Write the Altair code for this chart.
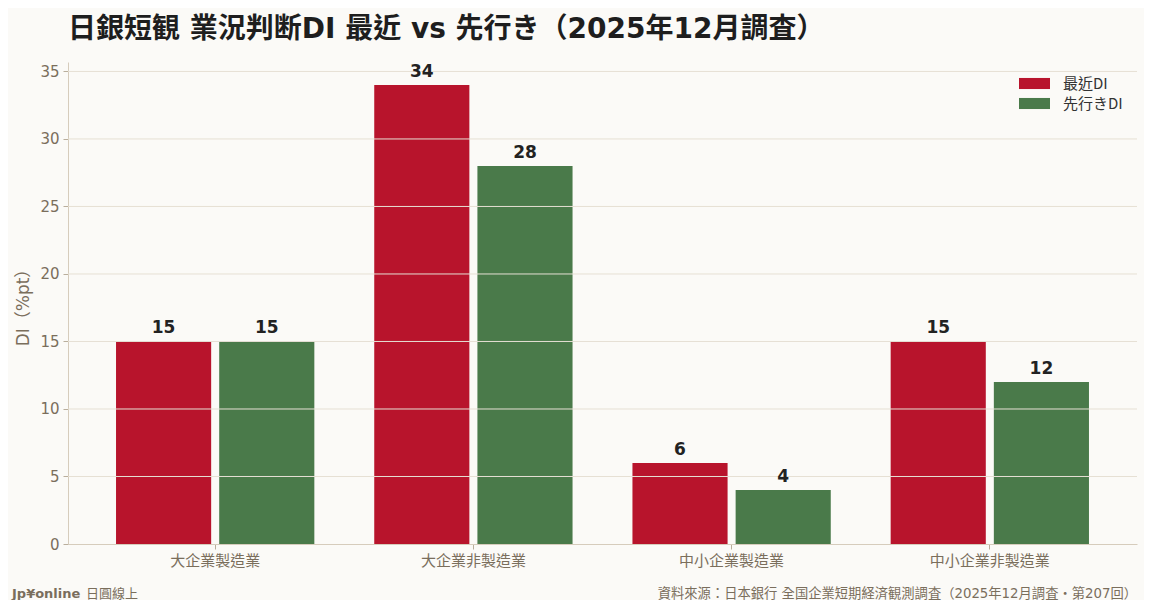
import altair as alt
import pandas as pd

categories = ["大企業製造業", "大企業非製造業", "中小企業製造業", "中小企業非製造業"]
series = ["最近DI", "先行きDI"]
recent_di = [15, 34, 6, 15]
forecast_di = [15, 28, 4, 12]
colors = ["#B8142C", "#4A7A4A"]
y_ticks = [0, 5, 10, 15, 20, 25, 30, 35]

rows = []
for c, r, f in zip(categories, recent_di, forecast_di):
    rows.append({"cat": c, "series": series[0], "value": r})
    rows.append({"cat": c, "series": series[1], "value": f})
df = pd.DataFrame(rows)
grid_df = pd.DataFrame({"value": y_ticks[1:]})

FONT = "DejaVu Sans, Noto Sans CJK TC, sans-serif"
CJK = "Noto Sans CJK TC, sans-serif"
TXT = "#7A6E5C"

x = alt.X("cat:N", sort=categories, title=None,
          scale=alt.Scale(paddingInner=0.232, paddingOuter=0.186),
          axis=alt.Axis(labelAngle=0, labelFontSize=15, labelColor=TXT, labelFont=CJK,
                        domainColor="#D6CCBC", tickColor="#B9AE9C", tickSize=5,
                        labelPadding=4, grid=False))
xo = alt.XOffset("series:N", sort=series,
                 scale=alt.Scale(paddingInner=0.078, paddingOuter=0))
yscale = alt.Scale(domain=[0, 35.7], nice=False)
yaxis = alt.Axis(values=y_ticks, labelFontSize=15, grid=False,
                 labelColor=TXT, labelFont=FONT, titleFont=FONT, titleFontSize=17,
                 titleColor=TXT, titleFontWeight="normal", titlePadding=7,
                 domainColor="#D6CCBC", tickColor="#B9AE9C", tickSize=5,
                 labelPadding=4)
y = alt.Y("value:Q", title="DI（%pt）", scale=yscale, axis=yaxis)

bars = alt.Chart(df).mark_bar().encode(
    x=x, xOffset=xo, y=y,
    color=alt.Color("series:N", sort=series,
                    scale=alt.Scale(domain=series, range=colors),
                    legend=alt.Legend(title=None, orient="none", legendX=955, legendY=10,
                                      symbolType="M-1.4,-0.5H1.4V0.5H-1.4Z", symbolSize=490,
                                      symbolStrokeWidth=0, labelFontSize=15, labelColor="#333333",
                                      labelFont=CJK, labelOffset=17, rowPadding=0)),
)

grid = alt.Chart(grid_df).mark_rule(color="#E6E0D4", strokeWidth=1).encode(
    y=alt.Y("value:Q", title="DI（%pt）", scale=yscale, axis=yaxis))

labels = alt.Chart(df).mark_text(baseline="bottom", dy=-4, fontSize=17, fontWeight="bold",
                                 color="#222222", font=FONT).encode(
    x=alt.X("cat:N", sort=categories), xOffset=xo,
    y=alt.Y("value:Q", title="DI（%pt）", scale=yscale, axis=yaxis), text="value:Q")

foot_df = pd.DataFrame({"a": [1]})
foot1 = alt.Chart(foot_df).mark_text(align="left", baseline="middle", fontSize=13,
                                     fontWeight="bold", color=TXT, font=FONT).encode(
    x=alt.value(-56), y=alt.value(532), text=alt.value("Jp¥online"))
foot2 = alt.Chart(foot_df).mark_text(align="left", baseline="middle", fontSize=13,
                                     color=TXT, font=FONT).encode(
    x=alt.value(18), y=alt.value(532), text=alt.value("日圓線上"))
foot3 = alt.Chart(foot_df).mark_text(align="right", baseline="middle", fontSize=13.3,
                                     color=TXT, font=FONT).encode(
    x=alt.value(1069), y=alt.value(532),
    text=alt.value("資料來源：日本銀行 全国企業短期経済観測調査（2025年12月調査・第207回）"))

chart = alt.layer(bars, grid, labels, foot1, foot2, foot3).properties(
    width=1069, height=482,
    autosize=alt.AutoSizeParams(type="none"),
    padding={"left": 60, "top": 54, "right": 7, "bottom": 56},
    background="#FBFAF7",
    title=alt.TitleParams("日銀短観 業況判断DI 最近 vs 先行き（2025年12月調査）",
                          anchor="start", frame="group", fontSize=28, fontWeight="bold",
                          font=FONT, color="#1E1E1E", offset=18, dx=0),
).configure_view(stroke=None)

chart.save("out.html", embed_options={"renderer": "svg", "actions": False})
